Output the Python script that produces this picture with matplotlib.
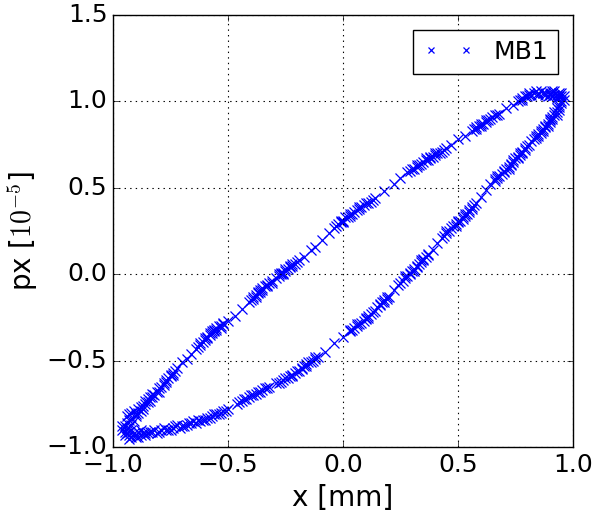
import matplotlib
matplotlib.use("Agg")
import matplotlib.pyplot as plt

plt.style.use("classic")

# Tracked phase-space coordinates for MB1: x in mm, px in units of 1e-5
x_mm = [
    # lower-left turning region
    -0.95, -0.94, -0.93, -0.92, -0.94, -0.93, -0.91, -0.90, -0.92, -0.95, -0.89, -0.91,
    -0.90, -0.92, -0.88, -0.87, -0.93,
    # upper branch
    -0.91, -0.90, -0.89, -0.88, -0.87, -0.86, -0.85, -0.84, -0.83, -0.82, -0.80, -0.78,
    -0.77, -0.76, -0.75, -0.74, -0.73, -0.72, -0.70, -0.68, -0.66, -0.64, -0.62, -0.60,
    -0.59, -0.58, -0.57, -0.56, -0.55, -0.53, -0.52, -0.50, -0.47, -0.44, -0.41, -0.39,
    -0.38, -0.37, -0.36, -0.35, -0.33, -0.31, -0.28, -0.27, -0.26, -0.25, -0.23, -0.22,
    -0.20, -0.17, -0.14, -0.12, -0.09, -0.06, -0.03, -0.01, 0.00, 0.01, 0.03, 0.05,
    0.07, 0.09, 0.11, 0.13, 0.14, 0.18, 0.22, 0.25, 0.28, 0.30, 0.32, 0.34,
    0.36, 0.38, 0.40, 0.42, 0.44, 0.47, 0.50, 0.53, 0.56, 0.58, 0.60, 0.62,
    0.64, 0.66, 0.68, 0.71, 0.74, 0.76, 0.78, 0.79, 0.81, 0.83, 0.85, 0.86,
    0.88, 0.89, 0.90, 0.91, 0.92, 0.93, 0.94, 0.95,
    # lower branch
    0.95, 0.94, 0.93, 0.92, 0.93, 0.91, 0.90, 0.89, 0.88, 0.87, 0.86, 0.85,
    0.84, 0.82, 0.81, 0.79, 0.78, 0.77, 0.76, 0.74, 0.73, 0.72, 0.70, 0.69,
    0.67, 0.66, 0.64, 0.62, 0.60, 0.58, 0.56, 0.55, 0.53, 0.52, 0.50, 0.49,
    0.47, 0.45, 0.43, 0.41, 0.39, 0.37, 0.35, 0.34, 0.32, 0.31, 0.29, 0.28,
    0.27, 0.25, 0.22, 0.19, 0.18, 0.16, 0.15, 0.13, 0.11, 0.10, 0.08, 0.06,
    0.05, 0.03, 0.00, -0.04, -0.08, -0.12, -0.14, -0.16, -0.18, -0.20, -0.22, -0.24,
    -0.26, -0.28, -0.32, -0.35, -0.37, -0.39, -0.41, -0.43, -0.46, -0.50, -0.53, -0.55,
    -0.57, -0.59, -0.61, -0.63, -0.65, -0.68, -0.70, -0.72, -0.74, -0.76, -0.78, -0.80,
    -0.82, -0.84, -0.86,
]

px_e5 = [
    -0.91, -0.89, -0.93, -0.90, -0.86, -0.84, -0.92, -0.94, -0.87, -0.88, -0.91, -0.85,
    -0.82, -0.80, -0.93, -0.92, -0.95,
    -0.79, -0.81, -0.78, -0.77, -0.76, -0.73, -0.74, -0.71, -0.69, -0.70, -0.66, -0.63,
    -0.62, -0.60, -0.59, -0.57, -0.56, -0.54, -0.51, -0.49, -0.46, -0.43, -0.40, -0.38,
    -0.36, -0.34, -0.34, -0.32, -0.31, -0.30, -0.29, -0.27, -0.24, -0.20, -0.16, -0.13,
    -0.12, -0.11, -0.09, -0.08, -0.06, -0.04, -0.01, 0.00, 0.01, 0.02, 0.04, 0.05,
    0.07, 0.10, 0.14, 0.16, 0.20, 0.24, 0.28, 0.30, 0.31, 0.33, 0.34, 0.36,
    0.38, 0.40, 0.41, 0.43, 0.44, 0.48, 0.52, 0.56, 0.59, 0.61, 0.62, 0.64,
    0.66, 0.67, 0.69, 0.70, 0.72, 0.75, 0.78, 0.80, 0.83, 0.85, 0.86, 0.88,
    0.90, 0.92, 0.93, 0.96, 0.98, 1.00, 1.01, 1.03, 1.04, 1.05, 1.04, 1.06,
    1.05, 1.03, 1.05, 1.06, 1.04, 1.02, 1.05, 1.03,
    1.00, 0.98, 0.96, 0.94, 0.92, 0.91, 0.89, 0.87, 0.86, 0.84, 0.82, 0.81,
    0.79, 0.77, 0.75, 0.72, 0.70, 0.69, 0.67, 0.65, 0.63, 0.61, 0.59, 0.58,
    0.56, 0.55, 0.52, 0.49, 0.45, 0.41, 0.38, 0.36, 0.34, 0.32, 0.30, 0.29,
    0.27, 0.24, 0.21, 0.18, 0.14, 0.11, 0.09, 0.07, 0.04, 0.03, 0.01, -0.01,
    -0.02, -0.05, -0.09, -0.14, -0.15, -0.18, -0.19, -0.22, -0.25, -0.26, -0.28, -0.30,
    -0.31, -0.33, -0.36, -0.40, -0.45, -0.49, -0.51, -0.52, -0.55, -0.56, -0.58, -0.60,
    -0.61, -0.63, -0.65, -0.67, -0.68, -0.70, -0.71, -0.72, -0.75, -0.78, -0.80, -0.81,
    -0.82, -0.83, -0.84, -0.84, -0.85, -0.87, -0.88, -0.87, -0.89, -0.90, -0.89, -0.91,
    -0.90, -0.91, -0.92,
]

# Turns that bunch up in dense groups along the orbit
x_mm_dense = [
    # upper branch groups
    -0.89, -0.88, -0.87, -0.86, -0.85, -0.84, -0.83, -0.81, -0.80, -0.79, -0.78, -0.77, -0.75, -0.74,
    -0.63, -0.62, -0.61, -0.60, -0.59, -0.58, -0.57, -0.56, -0.55, -0.54, -0.53, -0.52,
    -0.40, -0.39, -0.38, -0.37, -0.36, -0.35, -0.34, -0.33, -0.32, -0.31,
    -0.29, -0.28, -0.27, -0.26, -0.25, -0.24, -0.23, -0.22, -0.21, -0.19,
    -0.04, -0.02, -0.01, 0.00, 0.02, 0.03, 0.04, 0.06, 0.07, 0.08, 0.10, 0.12,
    0.29, 0.31, 0.32, 0.33, 0.35, 0.36, 0.37, 0.38, 0.39, 0.40, 0.41, 0.43, 0.45,
    0.57, 0.58, 0.59, 0.60, 0.61, 0.62, 0.63, 0.65, 0.67,
    0.77, 0.78, 0.80, 0.81, 0.82, 0.84, 0.85, 0.87, 0.88, 0.90, 0.91, 0.92, 0.93, 0.94,
    0.95, 0.96, 0.96,
    # lower branch groups
    0.95, 0.94, 0.94, 0.93, 0.92, 0.91, 0.90, 0.90, 0.89, 0.88, 0.87, 0.86, 0.85, 0.84, 0.83,
    0.80, 0.79, 0.78, 0.77, 0.76, 0.75, 0.74, 0.73, 0.72, 0.71, 0.70, 0.68, 0.67, 0.66,
    0.57, 0.56, 0.55, 0.54, 0.53, 0.52, 0.51, 0.50, 0.49, 0.48, 0.46, 0.45, 0.44,
    0.37, 0.36, 0.35, 0.34, 0.33, 0.32, 0.31, 0.30, 0.29, 0.27, 0.26, 0.24,
    0.20, 0.19, 0.18, 0.17, 0.16, 0.14, 0.12, 0.11, 0.10, 0.09, 0.07, 0.06, 0.04, 0.03,
    -0.11, -0.12, -0.13, -0.15, -0.16, -0.17, -0.18, -0.19, -0.21, -0.22, -0.23, -0.25,
    -0.27, -0.29,
    -0.33, -0.34, -0.36, -0.38, -0.40, -0.42, -0.44, -0.45,
    -0.51, -0.52, -0.54, -0.56, -0.58, -0.60, -0.62, -0.64, -0.66, -0.67,
    -0.69, -0.71, -0.73, -0.75, -0.77, -0.79, -0.81, -0.83,
    # lower-left turning region
    -0.94, -0.96, -0.95, -0.93, -0.92, -0.90, -0.89, -0.85, -0.86, -0.88, -0.96, -0.94, -0.93,
]

px_e5_dense = [
    -0.80, -0.79, -0.78, -0.75, -0.72, -0.73, -0.71, -0.68, -0.68, -0.65, -0.64, -0.61, -0.58, -0.58,
    -0.42, -0.41, -0.39, -0.37, -0.37, -0.35, -0.33, -0.33, -0.32, -0.30, -0.31, -0.28,
    -0.15, -0.14, -0.13, -0.10, -0.10, -0.09, -0.07, -0.07, -0.05, -0.05,
    -0.02, 0.00, 0.01, 0.00, 0.03, 0.03, 0.05, 0.06, 0.06, 0.08,
    0.27, 0.29, 0.31, 0.30, 0.33, 0.35, 0.35, 0.37, 0.39, 0.39, 0.41, 0.42,
    0.60, 0.61, 0.63, 0.63, 0.65, 0.67, 0.66, 0.68, 0.68, 0.70, 0.70, 0.71, 0.73,
    0.84, 0.84, 0.86, 0.87, 0.87, 0.89, 0.89, 0.91, 0.92,
    1.01, 1.02, 1.03, 1.05, 1.04, 1.06, 1.05, 1.05, 1.04, 1.04, 1.03, 1.06, 1.04, 1.03,
    1.05, 1.03, 1.01,
    0.99, 0.97, 0.95, 0.94, 0.92, 0.90, 0.90, 0.88, 0.86, 0.85, 0.83, 0.83, 0.80, 0.80, 0.78,
    0.74, 0.73, 0.71, 0.70, 0.68, 0.67, 0.66, 0.64, 0.62, 0.61, 0.60, 0.57, 0.57, 0.54,
    0.40, 0.39, 0.37, 0.35, 0.35, 0.33, 0.31, 0.31, 0.28, 0.28, 0.25, 0.25, 0.22,
    0.12, 0.10, 0.08, 0.08, 0.06, 0.05, 0.02, 0.02, 0.00, -0.01, -0.04, -0.06,
    -0.13, -0.13, -0.16, -0.16, -0.17, -0.21, -0.23, -0.24, -0.25, -0.27, -0.29, -0.29, -0.32, -0.32,
    -0.48, -0.48, -0.50, -0.51, -0.53, -0.53, -0.54, -0.56, -0.57, -0.59, -0.59, -0.60,
    -0.62, -0.63,
    -0.66, -0.66, -0.68, -0.69, -0.70, -0.72, -0.73, -0.74,
    -0.79, -0.79, -0.81, -0.81, -0.83, -0.84, -0.85, -0.86, -0.86, -0.86,
    -0.88, -0.89, -0.88, -0.90, -0.90, -0.90, -0.92, -0.91,
    -0.92, -0.90, -0.93, -0.91, -0.94, -0.93, -0.94, -0.92, -0.93, -0.90, -0.88, -0.82, -0.81,
]

x_ticks = [-1.0, -0.5, 0.0, 0.5, 1.0]
y_ticks = [-1.0, -0.5, 0.0, 0.5, 1.0, 1.5]

fig = plt.figure(figsize=(5.98, 5.17), dpi=100, facecolor="white")
ax = fig.add_axes([0.189, 0.135, 0.769, 0.836])

ax.plot(x_mm + x_mm_dense, px_e5 + px_e5_dense, linestyle="none", marker="x",
        color="b", markersize=6.5, markeredgewidth=0.9, label="MB1")

ax.set_xlim(-1.0, 1.0)
ax.set_ylim(-1.0, 1.5)
ax.set_xticks(x_ticks)
ax.set_yticks(y_ticks)
ax.tick_params(labelsize=18)
ax.grid(True, linestyle=":", color="black", linewidth=0.8)

ax.set_xlabel("x [mm]", fontsize=20)
ax.set_ylabel(r"px [$10^{-5}$]", fontsize=20)

ax.legend(loc="upper right", numpoints=2, fontsize=18, markerscale=0.65,
          fancybox=False, borderaxespad=0.6)

fig.savefig("out.png", dpi=100, facecolor="white")
